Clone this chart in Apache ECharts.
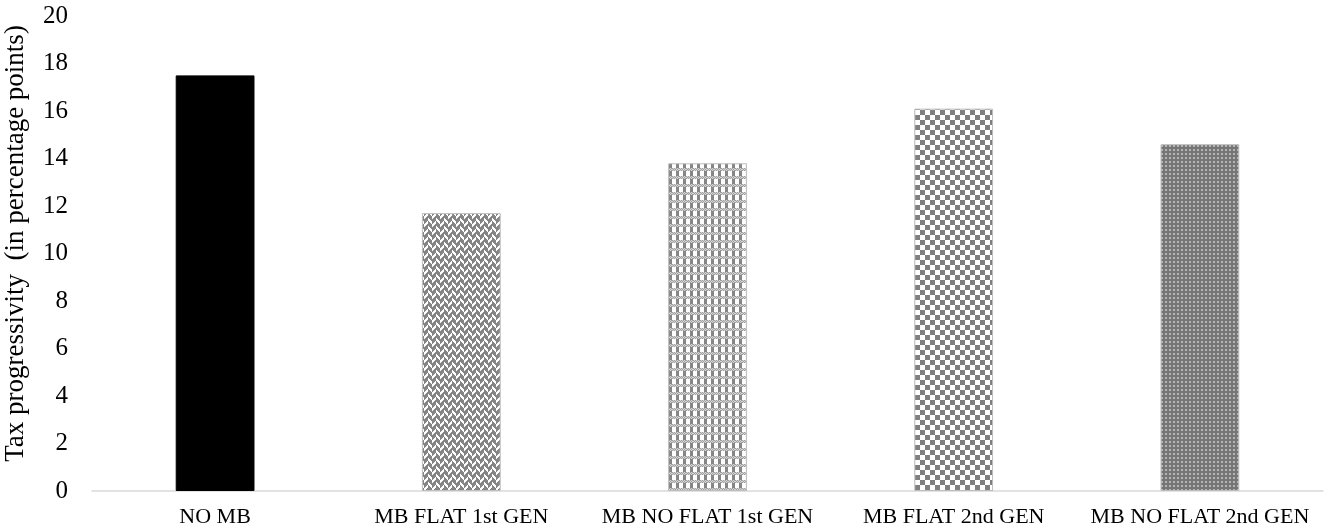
<!DOCTYPE html>
<html>
<head>
<meta charset="utf-8">
<script src="https://cdn.jsdelivr.net/npm/echarts@6/dist/echarts.min.js"></script>
<style>
html,body{margin:0;padding:0;background:#fff;}
#chart{width:1328px;height:529px;}
</style>
</head>
<body>
<div id="chart"></div>
<script>
const categories = ['NO MB', 'MB FLAT 1st GEN', 'MB NO FLAT 1st GEN', 'MB FLAT 2nd GEN', 'MB NO FLAT 2nd GEN'];
const values = [17.5, 11.7, 13.8, 16.1, 14.6];
const yTicks = [0, 2, 4, 6, 8, 10, 12, 14, 16, 18, 20];

function makeTile(w, h, fn) {
  const c = document.createElement('canvas');
  c.width = w; c.height = h;
  const ctx = c.getContext('2d');
  for (let y = 0; y < h; y++) {
    for (let x = 0; x < w; x++) {
      ctx.fillStyle = fn(x, y);
      ctx.fillRect(x, y, 1, 1);
    }
  }
  return c;
}
// herringbone / zigzag
const zig = makeTile(8, 8, (x, y) => {
  const a = ((x + y) % 8 + 8) % 8;
  const b = ((x - y) % 8 + 8) % 8;
  const white = (x < 4) ? (a <= 2) : (b <= 2);
  return white ? '#ffffff' : '#858585';
});
// grid of white/dark squares with light rows
const grid = makeTile(7, 8, (x, y) => {
  if (y < 3) return ((x + y) % 2 === 0) ? '#a0a0a0' : '#d4d4d4';
  return x < 4 ? '#ffffff' : '#858585';
});
// checkerboard
const checker = makeTile(10, 10, (x, y) => {
  return ((Math.floor(x / 5) + Math.floor(y / 5)) % 2 === 0) ? '#7f7f7f' : '#ffffff';
});
// dense dots
const dots = makeTile(4, 4, (x, y) => {
  return (x >= 1 && x <= 2 && y >= 1 && y <= 2) ? '#b4b4b4' : '#767676';
});

const fills = [
  '#000000',
  { image: zig, repeat: 'repeat' },
  { image: grid, repeat: 'repeat' },
  { image: checker, repeat: 'repeat' },
  { image: dots, repeat: 'repeat' }
];

const chart = echarts.init(document.getElementById('chart'), null, { renderer: 'canvas' });
const font = '"Liberation Serif", "Times New Roman", serif';
chart.setOption({
  animation: false,
  backgroundColor: '#ffffff',
  grid: { left: 92, right: 5, top: 16, bottom: 38, containLabel: false, outerBoundsMode: 'none' },
  xAxis: {
    type: 'category',
    data: categories,
    axisLine: { show: true, lineStyle: { color: '#d9d9d9', width: 1.5 } },
    axisTick: { show: false },
    axisLabel: { color: '#000', fontFamily: font, fontSize: 22, margin: 15, interval: 0, hideOverlap: false }
  },
  yAxis: {
    type: 'value',
    min: yTicks[0],
    max: yTicks[yTicks.length - 1],
    interval: 2,
    name: 'Tax progressivity  (in percentage points)',
    nameLocation: 'middle',
    nameGap: 63,
    nameTextStyle: { color: '#000', fontFamily: font, fontSize: 27, padding: [0, 0, 0, 20] },
    axisLine: { show: false },
    axisTick: { show: false },
    splitLine: { show: false },
    axisLabel: { color: '#000', fontFamily: font, fontSize: 25, margin: 24 }
  },
  series: [{
    type: 'bar',
    barWidth: '32%',
    data: values.map((v, i) => ({
      value: v,
      itemStyle: { color: fills[i], borderColor: i === 0 ? '#000' : '#bdbdbd', borderWidth: 1 }
    }))
  }]
});
</script>
</body>
</html>
